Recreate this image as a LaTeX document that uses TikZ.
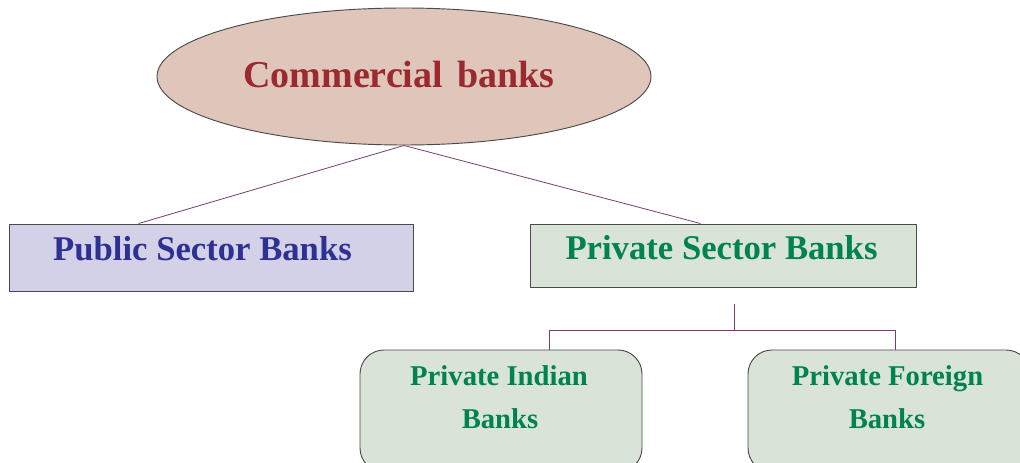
\documentclass[tikz,border=0pt]{standalone}
\usepackage{fontspec}
\setmainfont{Liberation Serif}
\usetikzlibrary{shapes.geometric,calc}
\definecolor{ellfill}{HTML}{E0C6BA}
\definecolor{elltext}{HTML}{9A2A2E}
\definecolor{pubfill}{HTML}{D3D1E8}
\definecolor{pubtext}{HTML}{2E3192}
\definecolor{grnfill}{HTML}{D9E3D8}
\definecolor{grntext}{HTML}{00834F}
\definecolor{bord}{HTML}{4A4A4A}
\definecolor{conn}{HTML}{7E3A72}
\begin{document}
\begin{tikzpicture}[x=0.75pt,y=-0.75pt,
  shapebox/.style={draw=bord,line width=0.7pt,inner sep=0pt},
  rbox/.style={shapebox,fill=grnfill,rounded corners=18pt,minimum width=211.5pt,minimum height=91.5pt},
  label/.style={anchor=base,inner sep=0pt,font=\bfseries},
  connector/.style={draw=conn,line width=0.6pt}]
\useasboundingbox (0,0) rectangle (1020,463);
\clip (0,0) rectangle (1020,463);
% top ellipse
\node[shapebox,ellipse,fill=ellfill,minimum width=370.5pt,minimum height=102.75pt] (cb) at (404,76.5) {};
\node[label,text=elltext,font=\bfseries\fontsize{28.5}{34}\selectfont] (cbt) at (399,88) {Commercial\hspace{0.38em}banks};
% level 2 boxes
\node[shapebox,fill=pubfill,minimum width=303pt,minimum height=50.25pt] (pub) at (211,257.5) {};
\node[label,text=pubtext,font=\bfseries\fontsize{26}{31}\selectfont] (pubt) at (202.5,260) {Public Sector Banks};
\node[shapebox,fill=grnfill,minimum width=289.5pt,minimum height=47.25pt] (priv) at (723,255.5) {};
\node[label,text=grntext,font=\bfseries\fontsize{26}{31}\selectfont] (privt) at (721.5,259) {Private Sector Banks};
% level 3 boxes
\node[rbox] (pi) at (501,411) {};
\node[rbox] (pf) at (889,411) {};
\node[label,text=grntext,font=\bfseries\fontsize{21.5}{26}\selectfont] (pit1) at (499,385) {Private Indian};
\node[label,text=grntext,font=\bfseries\fontsize{21.5}{26}\selectfont] (pit2) at (500,428) {Banks};
\node[label,text=grntext,font=\bfseries\fontsize{21.5}{26}\selectfont] (pft1) at (887.5,385) {Private Foreign};
\node[label,text=grntext,font=\bfseries\fontsize{21.5}{26}\selectfont] (pft2) at (887,428) {Banks};
% connectors
\coordinate (pubtop) at ($(pub.north west)+(130,0)$);
\coordinate (privtop) at ($(priv.north west)+(171,0)$);
\draw[connector] (cb.south) -- (pubtop);
\draw[connector] (cb.south) -- (privtop);
\coordinate (top) at ($(priv.south)+(11,17)$);
\coordinate (mid) at ($(top)+(0,26)$);
\coordinate (pia) at ($(pi.north west)+(190,0)$);
\coordinate (pfa) at ($(pf.north west)+(148,0)$);
\draw[connector] (top) -- (mid);
\draw[connector] (pia) |- (mid) -| (pfa);
\end{tikzpicture}
\end{document}
